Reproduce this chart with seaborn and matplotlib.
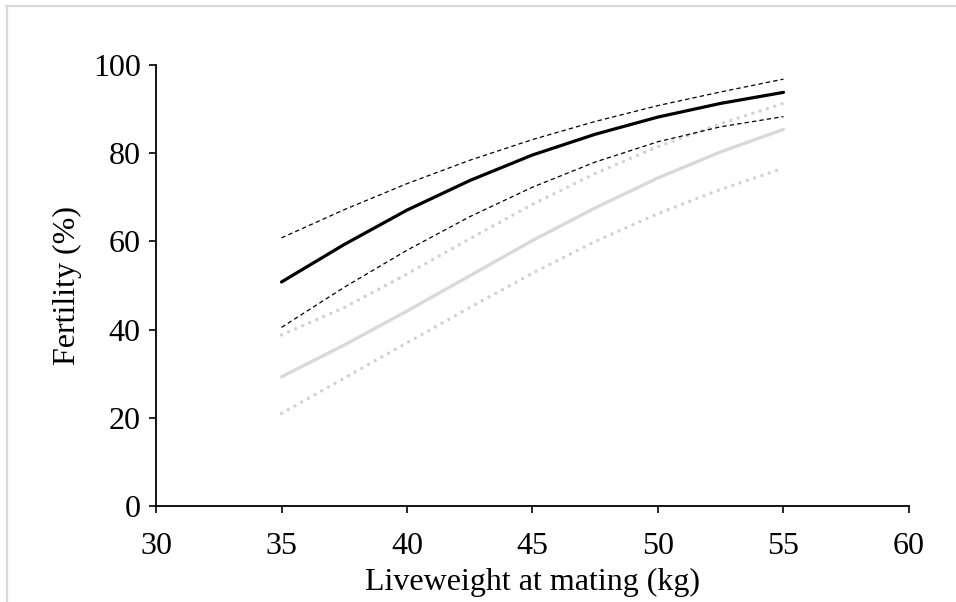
import numpy as np
import pandas as pd
import matplotlib.pyplot as plt
import seaborn as sns
from matplotlib.lines import Line2D

# -----------------------------------------------------
# DATA
# -----------------------------------------------------

liveweight = [35, 37.5, 40, 42.5, 45, 47.5, 50, 52.5, 55]

fert_a = [50.8, 59.3, 67.1, 73.8, 79.6, 84.3, 88.2, 91.3, 93.8]
fert_a_upper = [60.8, 67.2, 73.1, 78.4, 83.1, 87.2, 90.8, 93.9, 96.8]
fert_a_lower = [40.5, 49.6, 58.0, 65.6, 72.3, 78.0, 82.6, 86.0, 88.3]

fert_b = [29.3, 36.5, 44.2, 52.2, 60.2, 67.6, 74.4, 80.3, 85.4]
fert_b_upper = [38.8, 45.0, 52.6, 60.6, 68.4, 75.4, 81.5, 86.7, 91.3]
fert_b_lower = [21.0, 29.0, 37.0, 45.0, 52.8, 60.0, 66.3, 71.8, 76.6]

x_ticks = [30, 35, 40, 45, 50, 55, 60]
y_ticks = [0, 20, 40, 60, 80, 100]

# -----------------------------------------------------
# PLOT
# -----------------------------------------------------

sns.set_style("ticks")
plt.rcParams["font.family"] = ["Liberation Serif", "DejaVu Serif"]

fig = plt.figure(figsize=(9.56, 6.02), dpi=100)
ax = fig.add_axes([0.1632, 0.1595, 0.7876, 0.7325])

grey = "#d9d9d9"
dots = (0, (0.01, 2.2))
dashes = (0, (3.5, 2.5))

sns.lineplot(x=liveweight, y=fert_b_upper, ax=ax, color="#d2d2d2",
             linewidth=2.5, linestyle=dots, dash_capstyle="round")
sns.lineplot(x=liveweight, y=fert_b_lower, ax=ax, color="#d2d2d2",
             linewidth=2.5, linestyle=dots, dash_capstyle="round")
sns.lineplot(x=liveweight, y=fert_b, ax=ax, color=grey, linewidth=2.4)

sns.lineplot(x=liveweight, y=fert_a_upper, ax=ax, color="black",
             linewidth=0.9, linestyle=dashes)
sns.lineplot(x=liveweight, y=fert_a_lower, ax=ax, color="black",
             linewidth=0.9, linestyle=dashes)
sns.lineplot(x=liveweight, y=fert_a, ax=ax, color="black", linewidth=2.3)

ax.set_xlim(30, 60)
ax.set_ylim(0, 100)
ax.set_xticks(x_ticks)
ax.set_yticks(y_ticks)
ax.tick_params(axis="both", direction="out", length=5, width=1.2,
               color="black", labelsize=23, labelcolor="black", pad=6)
ax.tick_params(axis="x", pad=14)

for side in ["top", "right"]:
    ax.spines[side].set_visible(False)
for side in ["left", "bottom"]:
    ax.spines[side].set_color("black")
    ax.spines[side].set_linewidth(1.3)

ax.set_xlabel("Liveweight at mating (kg)", fontsize=23, color="black")
ax.set_ylabel("Fertility (%)", fontsize=23, color="black")
ax.xaxis.set_label_coords(0.5, -0.14)
ax.yaxis.set_label_coords(-0.098, 0.5)

# light chart-area frame (top and left edges visible)
fig.add_artist(Line2D([0.006, 1.0], [0.99, 0.99], transform=fig.transFigure,
                      color=grey, linewidth=1.6))
fig.add_artist(Line2D([0.007, 0.007], [0.0, 0.99], transform=fig.transFigure,
                      color=grey, linewidth=1.6))

fig.savefig("out.png", dpi=100)
